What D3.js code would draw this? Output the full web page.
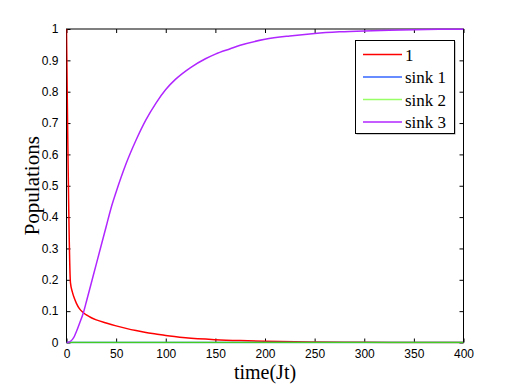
<!DOCTYPE html>
<html><head><meta charset="utf-8">
<script src="https://cdn.jsdelivr.net/npm/d3@7"></script>
<style>body{margin:0;background:#fff}svg{display:block}</style>
</head><body>
<script>
// ---- data ----
const seriesNames = ["1", "sink 1", "sink 2", "sink 3"];
const seriesColors = ["#ff0000", "#3366ff", "#99ff66", "#b026ff"];

const redT = [0, 4, 6, 8, 10, 13, 17, 20, 25, 30, 40, 50, 60, 70, 80, 90, 100, 120, 150, 175, 200, 250, 300, 350, 400];
const redV = [1, 0.19, 0.16, 0.14, 0.125, 0.108, 0.095, 0.088, 0.079, 0.072, 0.062, 0.053, 0.045, 0.038, 0.032, 0.027, 0.022, 0.015, 0.009, 0.006, 0.004, 0.0015, 0.0006, 0.0002, 0.0001];

const sinkT = [0, 400];
const sink1V = [0, 0];
const sink2V = [0, 0];

const purpleT = [0, 2, 4, 6, 8, 10, 13, 17, 20, 25, 30, 35, 40, 45, 50, 60, 70, 80, 90, 100, 110, 125, 140, 150, 165, 175, 200, 225, 250, 275, 300, 325, 350, 375, 400];
const purpleV = [0, 0.001, 0.004, 0.01, 0.02, 0.035, 0.06, 0.095, 0.13, 0.19, 0.25, 0.31, 0.37, 0.43, 0.48, 0.57, 0.645, 0.71, 0.763, 0.807, 0.84, 0.877, 0.905, 0.92, 0.937, 0.948, 0.967, 0.978, 0.986, 0.991, 0.994, 0.996, 0.998, 0.999, 0.9995];

const xTicks = [0, 50, 100, 150, 200, 250, 300, 350, 400];
const yTicks = [0, 0.1, 0.2, 0.3, 0.4, 0.5, 0.6, 0.7, 0.8, 0.9, 1];
const xLabel = "time(Jt)";
const yLabel = "Populations";

// ---- layout ----
const W = 512, H = 385;
const L = 66.5, R = 463.5, T = 29, B = 342.5;
const x = d3.scaleLinear().domain([0, 400]).range([L, R]);
const y = d3.scaleLinear().domain([0, 1]).range([B, T]);

const svg = d3.select("body").append("svg").attr("width", W).attr("height", H);

svg.append("defs").append("clipPath").attr("id", "clip")
  .append("rect").attr("x", L).attr("y", T - 1).attr("width", R - L).attr("height", B - T + 2);

// box
svg.append("rect").attr("x", L).attr("y", T).attr("width", R - L).attr("height", B - T)
  .attr("fill", "#fff").attr("stroke", "#000").attr("stroke-width", 1);

const tickFont = "'Liberation Sans', Arial, sans-serif";
const tl = 4;
const fmtY = d => d === 0 ? "0" : d === 1 ? "1" : d3.format(".1f")(d);
const xAxisB = d3.axisBottom(x).tickValues(xTicks).tickSize(-tl).tickPadding(7).tickFormat(d3.format("d"));
const xAxisT = d3.axisTop(x).tickValues(xTicks).tickSize(-tl).tickFormat("");
const yAxisL = d3.axisLeft(y).tickValues(yTicks).tickSize(-tl).tickPadding(8).tickFormat(fmtY);
const yAxisR = d3.axisRight(y).tickValues(yTicks).tickSize(-tl).tickFormat("");

function style(g) {
  g.select(".domain").remove();
  g.selectAll(".tick line").attr("stroke", "#000");
  g.selectAll("text").attr("font-family", tickFont).attr("font-size", 12).attr("fill", "#000");
}
svg.append("g").attr("transform", `translate(0,${B})`).call(xAxisB).call(style);
svg.append("g").attr("transform", `translate(0,${T})`).call(xAxisT).call(style);
svg.append("g").attr("transform", `translate(${L},0)`).call(yAxisL).call(style);
svg.append("g").attr("transform", `translate(${R},0)`).call(yAxisR).call(style);

// curves
const line = d3.line().curve(d3.curveMonotoneX).x(d => x(d[0])).y(d => y(d[1]));
const data = [
  d3.zip(redT, redV),
  d3.zip(sinkT, sink1V),
  d3.zip(sinkT, sink2V),
  d3.zip(purpleT, purpleV)
];
const gc = svg.append("g").attr("clip-path", "url(#clip)");
const lineColors = ["#ff0000", "#3366ff", "#44cc22", "#b026ff"];
data.forEach((d, i) => {
  gc.append("path").datum(d).attr("d", line).attr("fill", "none")
    .attr("stroke", lineColors[i]).attr("stroke-width", 1.5);
});

// axis labels
const serif = "'Liberation Serif', 'Times New Roman', serif";
svg.append("text").attr("x", (L + R) / 2).attr("y", 379).attr("text-anchor", "middle")
  .attr("font-family", serif).attr("font-size", 20).text(xLabel);
svg.append("text").attr("transform", `translate(39,${(T + B) / 2}) rotate(-90)`)
  .attr("text-anchor", "middle").attr("font-family", serif).attr("font-size", 21).text(yLabel);

// legend
const lx = 355.5, ly = 40.5, lw = 99, lh = 93;
svg.append("rect").attr("x", lx + 1).attr("y", ly + 1).attr("width", lw).attr("height", lh).attr("fill", "#999");
svg.append("rect").attr("x", lx).attr("y", ly).attr("width", lw).attr("height", lh)
  .attr("fill", "#fff").attr("stroke", "#000").attr("stroke-width", 1);
const rowY = d3.scalePoint().domain(seriesNames).range([54.5, 122]);
seriesNames.forEach((n, i) => {
  const ry = rowY(n);
  svg.append("line").attr("x1", 363).attr("x2", 402).attr("y1", ry).attr("y2", ry)
    .attr("stroke", seriesColors[i]).attr("stroke-width", 1.6);
  svg.append("text").attr("x", 405).attr("y", ry + 6).attr("font-family", serif)
    .attr("font-size", 17).text(n);
});
</script>
</body></html>
